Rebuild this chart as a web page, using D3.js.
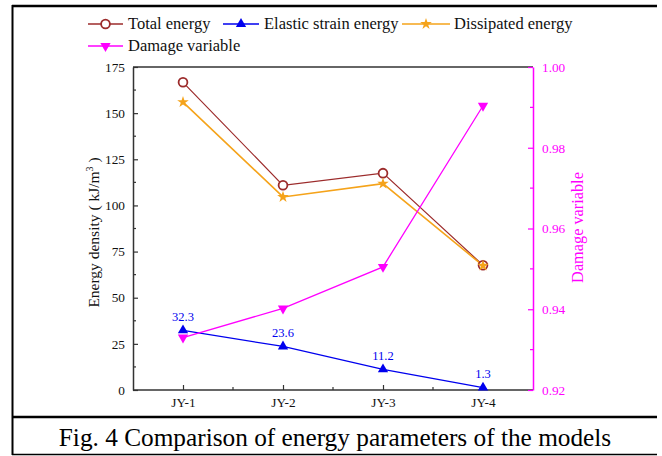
<!DOCTYPE html>
<html>
<head>
<meta charset="utf-8">
<script src="https://cdn.jsdelivr.net/npm/d3@7"></script>
<style>
  html, body { margin: 0; padding: 0; background: #fff; }
  svg, svg text { font-family: "Liberation Serif", "Times New Roman", serif; }
  svg { display: block; }
</style>
</head>
<body>
<svg id="chart" width="662" height="456"></svg>
<script>
// Specimens and measured quantities
const categories = ["JY-1", "JY-2", "JY-3", "JY-4"];
const totalEnergy = [166.7, 110.9, 117.5, 67.6];
const elasticEnergy = [32.3, 23.6, 11.2, 1.3];
const dissipatedEnergy = [156.0, 104.6, 111.8, 67.4];
const damageVariable = [0.933, 0.9402, 0.9505, 0.9904];

const leftTicks = [0, 25, 50, 75, 100, 125, 150, 175];
const rightTicks = [0.92, 0.94, 0.96, 0.98, 1.00];
const seriesNames = ["Total energy", "Elastic strain energy", "Dissipated energy", "Damage variable"];
const caption = "Fig. 4 Comparison of energy parameters of the models";

const svg = d3.select("#chart");
const plot = { left: 133, right: 533, top: 67, bottom: 390 };

const colors = {
  total: "#9c2b2b",
  elastic: "#0000ee",
  dissipated: "#f5a31a",
  damage: "#ff00ff",
  axis: "#333333",
  text: "#111111"
};

const x = d3.scalePoint().domain(categories).range([plot.left, plot.right]).padding(0.5);
const yL = d3.scaleLinear().domain([0, 175]).range([plot.bottom, plot.top]);
const yR = d3.scaleLinear().domain([0.92, 1.00]).range([plot.bottom, plot.top]);

// Figure frame and caption band
const frame = svg.append("g").attr("stroke", "#000").attr("fill", "none");
frame.append("line").attr("x1", 12).attr("x2", 657).attr("y1", 6).attr("y2", 6).attr("stroke-width", 2.5);
frame.append("line").attr("x1", 12.5).attr("x2", 12.5).attr("y1", 5).attr("y2", 455).attr("stroke-width", 2);
frame.append("line").attr("x1", 12).attr("x2", 657).attr("y1", 417).attr("y2", 417).attr("stroke-width", 2.5);
frame.append("line").attr("x1", 12).attr("x2", 657).attr("y1", 454.5).attr("y2", 454.5).attr("stroke-width", 1.5);

svg.append("text")
  .attr("x", 335).attr("y", 446)
  .attr("text-anchor", "middle")
  .attr("font-size", 25.3)
  .attr("fill", "#000")
  .text(caption);

// Axes
const tickFont = 13.3;
const serif = "Liberation Serif, Times New Roman, serif";

const gLeft = svg.append("g").attr("transform", `translate(${plot.left},0)`)
  .call(d3.axisLeft(yL).tickValues(leftTicks).tickSize(-5).tickSizeOuter(0).tickPadding(8).tickFormat(d3.format("d")))
  .attr("font-family", serif);
gLeft.select(".domain").attr("stroke", colors.axis).attr("stroke-width", 1.5);
gLeft.selectAll(".tick line").attr("stroke", colors.axis).attr("stroke-width", 1.2);
gLeft.selectAll(".tick text").attr("font-size", tickFont).attr("fill", colors.text);

// Minor ticks on the left axis
svg.append("g").selectAll("line")
  .data(d3.range(12.5, 175, 25))
  .join("line")
  .attr("x1", plot.left).attr("x2", plot.left + 3)
  .attr("y1", d => yL(d)).attr("y2", d => yL(d))
  .attr("stroke", colors.axis).attr("stroke-width", 1.2);

const gBottom = svg.append("g").attr("transform", `translate(0,${plot.bottom})`)
  .call(d3.axisBottom(x).tickSize(-5).tickSizeOuter(0).tickPadding(8))
  .attr("font-family", serif);
gBottom.select(".domain").attr("stroke", colors.axis).attr("stroke-width", 1.5)
  .attr("d", `M${plot.left},0H${plot.right}`);
gBottom.selectAll(".tick line").attr("stroke", colors.axis).attr("stroke-width", 1.2);
gBottom.selectAll(".tick text").attr("font-size", tickFont).attr("fill", colors.text);

// Minor ticks between categories
const step = x.step();
svg.append("g").selectAll("line")
  .data(categories.slice(1))
  .join("line")
  .attr("x1", d => x(d) - step / 2).attr("x2", d => x(d) - step / 2)
  .attr("y1", plot.bottom).attr("y2", plot.bottom - 3)
  .attr("stroke", colors.axis).attr("stroke-width", 1.2);

// Top frame line
svg.append("line")
  .attr("x1", plot.left).attr("x2", plot.right)
  .attr("y1", plot.top).attr("y2", plot.top)
  .attr("stroke", colors.axis).attr("stroke-width", 1.5);

const gRight = svg.append("g").attr("transform", `translate(${plot.right},0)`)
  .call(d3.axisRight(yR).tickValues(rightTicks).tickSize(-5).tickSizeOuter(0).tickPadding(9).tickFormat(d3.format(".2f")))
  .attr("font-family", serif);
gRight.select(".domain").attr("stroke", colors.damage).attr("stroke-width", 1.5);
gRight.selectAll(".tick line").attr("stroke", colors.damage).attr("stroke-width", 1.2);
gRight.selectAll(".tick text").attr("font-size", tickFont).attr("fill", colors.damage);

svg.append("g").selectAll("line")
  .data(d3.range(0.93, 1.0, 0.02))
  .join("line")
  .attr("x1", plot.right).attr("x2", plot.right - 3)
  .attr("y1", d => yR(d)).attr("y2", d => yR(d))
  .attr("stroke", colors.damage).attr("stroke-width", 1.2);

// Axis titles
const leftTitle = svg.append("text")
  .attr("transform", `translate(99,${(plot.top + plot.bottom) / 2 + 4}) rotate(-90)`)
  .attr("text-anchor", "middle")
  .attr("font-size", 15.5)
  .attr("fill", colors.text);
leftTitle.append("tspan").text("Energy density ( kJ/m");
leftTitle.append("tspan").attr("font-size", 10).attr("dy", -6).text("3");
leftTitle.append("tspan").attr("dy", 6).text(" )");

svg.append("text")
  .attr("transform", `translate(583,${(plot.top + plot.bottom) / 2 - 1}) rotate(-90)`)
  .attr("text-anchor", "middle")
  .attr("font-size", 16.3)
  .attr("fill", colors.damage)
  .text("Damage variable");

// Series
const lineL = d3.line().x((d, i) => x(categories[i])).y(d => yL(d));
const lineR = d3.line().x((d, i) => x(categories[i])).y(d => yR(d));

const starSym = d3.symbol().type(d3.symbolStar).size(42);
const triSym = d3.symbol().type(d3.symbolTriangle).size(46);

// Total energy
svg.append("path").datum(totalEnergy).attr("d", lineL)
  .attr("fill", "none").attr("stroke", colors.total).attr("stroke-width", 1.2);
// Elastic strain energy
svg.append("path").datum(elasticEnergy).attr("d", lineL)
  .attr("fill", "none").attr("stroke", colors.elastic).attr("stroke-width", 1.3);
// Dissipated energy
svg.append("path").datum(dissipatedEnergy).attr("d", lineL)
  .attr("fill", "none").attr("stroke", colors.dissipated).attr("stroke-width", 1.6);
// Damage variable
svg.append("path").datum(damageVariable).attr("d", lineR)
  .attr("fill", "none").attr("stroke", colors.damage).attr("stroke-width", 1.3);

svg.append("g").selectAll("circle").data(totalEnergy).join("circle")
  .attr("cx", (d, i) => x(categories[i])).attr("cy", d => yL(d)).attr("r", 4.4)
  .attr("fill", "#fff").attr("stroke", colors.total).attr("stroke-width", 1.8);

svg.append("g").selectAll("path").data(elasticEnergy).join("path")
  .attr("d", triSym)
  .attr("transform", (d, i) => `translate(${x(categories[i])},${yL(d)})`)
  .attr("fill", colors.elastic);

svg.append("g").selectAll("path").data(dissipatedEnergy).join("path")
  .attr("d", starSym)
  .attr("transform", (d, i) => `translate(${x(categories[i])},${yL(d)})`)
  .attr("fill", colors.dissipated);

svg.append("g").selectAll("path").data(damageVariable).join("path")
  .attr("d", triSym)
  .attr("transform", (d, i) => `translate(${x(categories[i])},${yR(d)}) rotate(180)`)
  .attr("fill", colors.damage);

// Value labels for elastic strain energy
svg.append("g").selectAll("text").data(elasticEnergy).join("text")
  .attr("x", (d, i) => x(categories[i]))
  .attr("y", d => yL(d) - 9.5)
  .attr("text-anchor", "middle")
  .attr("font-size", 12.5)
  .attr("fill", colors.elastic)
  .text(d => d3.format(".1f")(d));

// Legend
const legendItems = [
  { name: seriesNames[0], x0: 88, x1: 123, tx: 128, y: 24, kind: "circle", color: colors.total },
  { name: seriesNames[1], x0: 223, x1: 259, tx: 264, y: 24, kind: "triUp", color: colors.elastic },
  { name: seriesNames[2], x0: 402, x1: 450, tx: 454, y: 24, kind: "star", color: colors.dissipated },
  { name: seriesNames[3], x0: 88, x1: 123, tx: 128, y: 46, kind: "triDown", color: colors.damage }
];
const legend = svg.append("g");
legendItems.forEach(it => {
  const g = legend.append("g");
  g.append("line").attr("x1", it.x0).attr("x2", it.x1).attr("y1", it.y).attr("y2", it.y)
    .attr("stroke", it.color).attr("stroke-width", 1.5);
  const mx = (it.x0 + it.x1) / 2;
  if (it.kind === "circle") {
    g.append("circle").attr("cx", mx).attr("cy", it.y).attr("r", 4.4)
      .attr("fill", "#fff").attr("stroke", it.color).attr("stroke-width", 1.8);
  } else if (it.kind === "star") {
    g.append("path").attr("d", starSym).attr("transform", `translate(${mx},${it.y})`).attr("fill", it.color);
  } else {
    g.append("path").attr("d", triSym)
      .attr("transform", `translate(${mx},${it.y})${it.kind === "triDown" ? " rotate(180)" : ""}`)
      .attr("fill", it.color);
  }
  g.append("text").attr("x", it.tx).attr("y", it.y + 5).attr("font-size", 16.5).attr("fill", colors.text).text(it.name);
});
</script>
</body>
</html>
